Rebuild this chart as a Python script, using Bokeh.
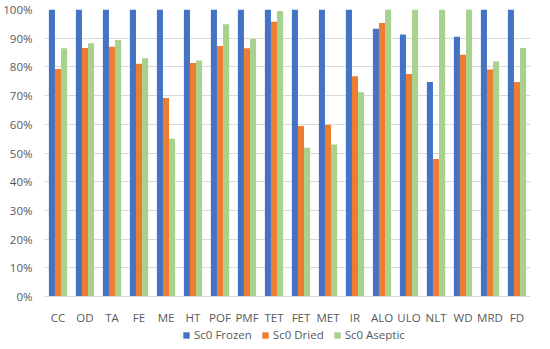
from bokeh.plotting import figure
from bokeh.layouts import column
from bokeh.models import ColumnDataSource, Range1d, FactorRange, NumeralTickFormatter, Legend, LegendItem, FixedTicker
from bokeh.transform import dodge
from bokeh.embed import file_html
from bokeh.resources import INLINE

categories = ["CC", "OD", "TA", "FE", "ME", "HT", "POF", "PMF", "TET", "FET",
              "MET", "IR", "ALO", "ULO", "NLT", "WD", "MRD", "FD"]
frozen = [1.00, 1.00, 1.00, 1.00, 1.00, 1.00, 1.00, 1.00, 1.00, 1.00,
          1.00, 1.00, 0.933, 0.913, 0.747, 0.905, 1.00, 1.00]
dried = [0.793, 0.866, 0.870, 0.811, 0.692, 0.814, 0.873, 0.865, 0.957, 0.594,
         0.598, 0.767, 0.953, 0.775, 0.479, 0.842, 0.791, 0.747]
aseptic = [0.865, 0.882, 0.894, 0.830, 0.550, 0.822, 0.949, 0.897, 0.995, 0.518,
           0.530, 0.712, 1.00, 1.00, 1.00, 1.00, 0.819, 0.866]
series_names = ["Sc0 Frozen", "Sc0 Dried", "Sc0 Aseptic"]
colors = ["#4472C4", "#ED7D31", "#A9D18E"]
y_ticks = [0, 0.1, 0.2, 0.3, 0.4, 0.5, 0.6, 0.7, 0.8, 0.9, 1.0]

font = "Open Sans"
src = ColumnDataSource(dict(cat=categories, frozen=frozen, dried=dried, aseptic=aseptic))

p = figure(x_range=FactorRange(*categories), y_range=Range1d(0, 1),
           width=534, height=327, output_backend="svg", toolbar_location=None,
           min_border_left=35, min_border_right=4, min_border_top=9, min_border_bottom=20)
p.outline_line_color = None
p.background_fill_color = "white"

w = 0.225
for i, (col, c) in enumerate(zip(["frozen", "dried", "aseptic"], colors)):
    p.vbar(x=dodge("cat", (i - 1) * w, range=p.x_range), top=col, width=w,
           source=src, fill_color=c, line_color=None)

p.x_range.range_padding = 0
p.yaxis.ticker = FixedTicker(ticks=y_ticks)
p.yaxis.formatter = NumeralTickFormatter(format="0%")
p.yaxis.axis_line_color = None
p.yaxis.major_tick_line_color = None
p.yaxis.minor_tick_line_color = None
p.yaxis.major_label_text_font = font
p.yaxis.major_label_text_font_size = "11.5px"
p.yaxis.major_label_text_color = "#595959"
p.yaxis.major_label_standoff = 6

p.xaxis.axis_line_color = "#D9D9D9"
p.xaxis.major_tick_line_color = None
p.xaxis.minor_tick_line_color = None
p.xaxis.major_label_text_font = font
p.xaxis.major_label_text_font_size = "11.5px"
p.xaxis.major_label_text_color = "#595959"
p.xaxis.major_label_standoff = 7

p.xgrid.grid_line_color = None
p.ygrid.grid_line_color = "#D9D9D9"

# legend strip: same series, drawn outside the strip's visible value range
lf = figure(width=534, height=14, output_backend="svg", toolbar_location=None,
            x_range=FactorRange(*categories), y_range=Range1d(2, 3),
            x_axis_type=None, y_axis_type=None,
            min_border_left=0, min_border_right=0, min_border_top=0, min_border_bottom=0)
lf.outline_line_color = None
lf.xgrid.grid_line_color = None
lf.ygrid.grid_line_color = None
leg_renderers = [lf.vbar(x="cat", top=col, width=0.1, source=src, fill_color=c, line_color=None)
                 for col, c in zip(["frozen", "dried", "aseptic"], colors)]
legend = Legend(items=[LegendItem(label=n, renderers=[r]) for n, r in zip(series_names, leg_renderers)],
                orientation="horizontal", location=(138, -1),
                label_text_font=font, label_text_font_size="11.5px", label_text_color="#595959",
                glyph_width=8, glyph_height=8, spacing=9, padding=1, margin=0,
                label_standoff=4, label_height=12,
                border_line_color=None, background_fill_alpha=0)
lf.add_layout(legend, "center")

layout = column(p, lf, spacing=0)
open("out.html", "w").write(file_html(layout, INLINE))
